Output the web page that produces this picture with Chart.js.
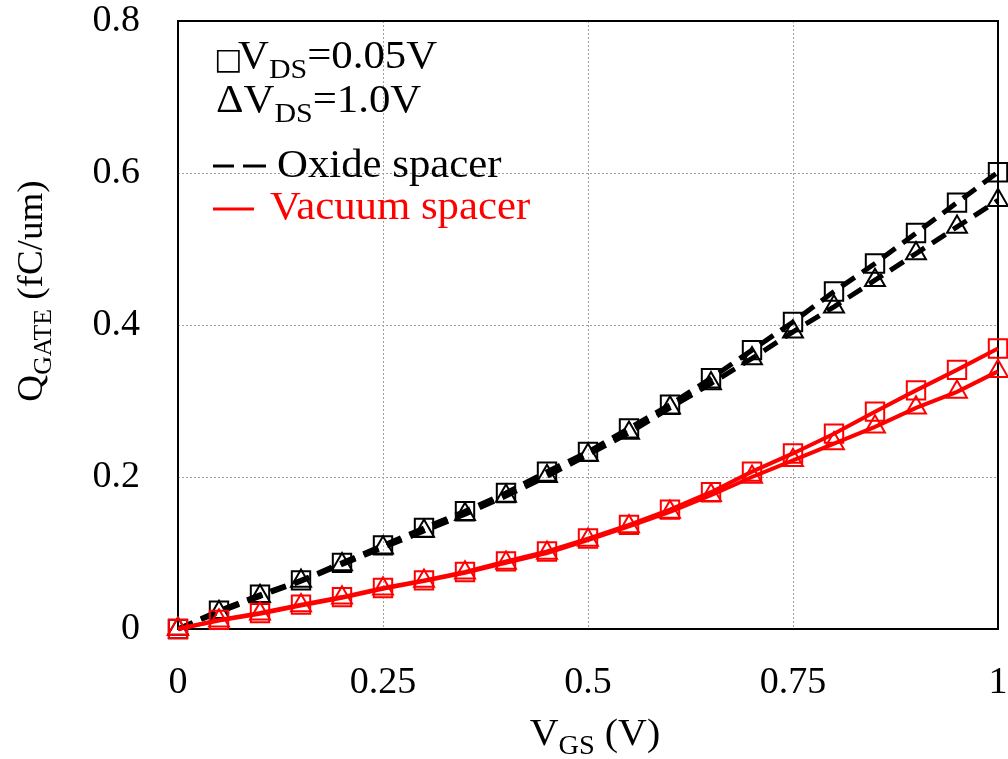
<!DOCTYPE html>
<html>
<head>
<meta charset="utf-8">
<script src="https://cdn.jsdelivr.net/npm/chart.js@4.4.0/dist/chart.umd.min.js"></script>
<style>
  html, body { margin: 0; padding: 0; background: #fff; }
  #wrap { width: 1008px; height: 759px; }
</style>
</head>
<body>
<div id="wrap"><canvas id="c" width="1008" height="759"></canvas></div>
<script>
// V_GS sweep (V)
const vgs = [0, 0.05, 0.1, 0.15, 0.2, 0.25, 0.3, 0.35, 0.4, 0.45, 0.5,
             0.55, 0.6, 0.65, 0.7, 0.75, 0.8, 0.85, 0.9, 0.95, 1.0];

// Q_GATE (fC/um), oxide spacer
const oxideVds005 = [0, 0.024, 0.045, 0.064, 0.087, 0.110, 0.133, 0.155, 0.179, 0.207, 0.233,
                     0.264, 0.295, 0.330, 0.367, 0.404, 0.444, 0.481, 0.521, 0.561, 0.601];
const oxideVds10  = [0, 0.022, 0.043, 0.063, 0.085, 0.107, 0.129, 0.151, 0.175, 0.201, 0.229,
                     0.258, 0.291, 0.323, 0.356, 0.391, 0.424, 0.459, 0.494, 0.529, 0.564];

// Q_GATE (fC/um), vacuum spacer
const vacVds005 = [0, 0.012, 0.021, 0.032, 0.042, 0.054, 0.064, 0.075, 0.089, 0.102, 0.119,
                   0.137, 0.157, 0.180, 0.207, 0.231, 0.257, 0.286, 0.314, 0.341, 0.369];
const vacVds10  = [0, 0.011, 0.020, 0.031, 0.041, 0.053, 0.063, 0.074, 0.087, 0.100, 0.117,
                   0.135, 0.154, 0.176, 0.200, 0.222, 0.244, 0.266, 0.291, 0.312, 0.339];

const xTicks = [0, 0.25, 0.5, 0.75, 1];
const xTickLabels = ['0', '0.25', '0.5', '0.75', '1'];
const yTicks = [0, 0.2, 0.4, 0.6, 0.8];
const yTickLabels = ['0', '0.2', '0.4', '0.6', '0.8'];

const SERIF = "'Liberation Serif', 'Times New Roman', serif";
const RED = '#ff0000';

function pts(ys) {
  return vgs.map((x, i) => ({ x: x, y: ys[i] }));
}

function series(label, ys, color, marker, dashed) {
  return {
    label: label,
    data: pts(ys),
    borderColor: color,
    borderWidth: dashed ? 5 : 4,
    borderDash: dashed ? [16, 9] : [],
    pointStyle: marker,
    pointRadius: marker === 'rect' ? 13 : 11.5,
    pointBorderWidth: 2,
    pointBorderColor: color,
    pointBackgroundColor: 'rgba(0,0,0,0)',
    tension: 0,
    clip: false
  };
}

// draws text runs like [['V', false], ['DS', true]] with subscripts, slightly widened
function drawRuns(ctx, runs, x, y, size, subSize, color, sx) {
  ctx.save();
  ctx.translate(x, y);
  ctx.scale(sx, 1);
  ctx.fillStyle = color;
  ctx.textBaseline = 'alphabetic';
  ctx.textAlign = 'left';
  let cx = 0;
  runs.forEach(r => {
    if (r[1]) {
      ctx.font = subSize + 'px ' + SERIF;
      ctx.fillText(r[0], cx, size * 0.24);
    } else {
      ctx.font = size + 'px ' + SERIF;
      ctx.fillText(r[0], cx, 0);
    }
    cx += ctx.measureText(r[0]).width;
  });
  ctx.restore();
}

function runsWidth(ctx, runs, size, subSize, sx) {
  let w = 0;
  runs.forEach(r => {
    ctx.font = (r[1] ? subSize : size) + 'px ' + SERIF;
    w += ctx.measureText(r[0]).width;
  });
  return w * sx;
}

function noPad(scale) {
  scale.paddingTop = 0;
  scale.paddingBottom = 0;
  scale.paddingLeft = 0;
  scale.paddingRight = 0;
}

const decor = {
  id: 'decor',
  beforeDatasetsDraw(chart) {
    const ctx = chart.ctx;
    const a = chart.chartArea;
    ctx.save();
    ctx.strokeStyle = '#000';
    ctx.lineWidth = 2;
    ctx.strokeRect(a.left, a.top, a.right - a.left, a.bottom - a.top);
    ctx.restore();
  },
  afterDraw(chart) {
    const ctx = chart.ctx;
    ctx.save();

    // legend block
    ctx.font = "30px 'DejaVu Sans'";
    ctx.fillStyle = '#000';
    ctx.textBaseline = 'alphabetic';
    ctx.fillText('\u25A1', 214, 69);
    drawRuns(ctx, [['V', false], ['DS', true], ['=0.05V', false]], 238, 68, 40, 28, '#000', 1.07);
    drawRuns(ctx, [['\u0394V', false], ['DS', true], ['=1.0V', false]], 216, 112, 40, 28, '#000', 1.07);

    ctx.strokeStyle = '#000';
    ctx.lineWidth = 3;
    ctx.beginPath();
    ctx.moveTo(213, 166); ctx.lineTo(234, 166);
    ctx.moveTo(243, 166); ctx.lineTo(266, 166);
    ctx.stroke();
    drawRuns(ctx, [['Oxide spacer', false]], 277, 177, 40, 28, '#000', 1.07);

    ctx.strokeStyle = RED;
    ctx.beginPath();
    ctx.moveTo(213, 209); ctx.lineTo(254, 209);
    ctx.stroke();
    drawRuns(ctx, [['Vacuum spacer', false]], 270, 219, 40, 28, RED, 1.07);

    // x axis title
    const xr = [['V', false], ['GS', true], [' (V)', false]];
    const xw = runsWidth(ctx, xr, 38, 27, 1.05);
    drawRuns(ctx, xr, 595 - xw / 2, 745, 38, 27, '#000', 1.05);

    // y axis title (rotated)
    const yr = [['Q', false], ['GATE', true], [' (fC/um)', false]];
    const yw = runsWidth(ctx, yr, 36, 25, 1.03);
    ctx.translate(42, 291);
    ctx.rotate(-Math.PI / 2);
    drawRuns(ctx, yr, -yw / 2, 0, 36, 25, '#000', 1.03);

    ctx.restore();
  }
};

new Chart(document.getElementById('c'), {
  type: 'line',
  data: {
    datasets: [
      series('Vacuum VDS=0.05V', vacVds005, RED, 'rect', false),
      series('Vacuum VDS=1.0V', vacVds10, RED, 'triangle', false),
      series('Oxide VDS=0.05V', oxideVds005, '#000', 'rect', true),
      series('Oxide VDS=1.0V', oxideVds10, '#000', 'triangle', true)
    ]
  },
  options: {
    responsive: false,
    animation: false,
    layout: { autoPadding: false, padding: { top: 21, right: 10, left: 0, bottom: 0 } },
    plugins: { legend: { display: false }, tooltip: { enabled: false } },
    scales: {
      x: {
        type: 'linear',
        min: 0,
        max: 1,
        afterFit(scale) { scale.height = 130; noPad(scale); },
        afterBuildTicks(scale) { scale.ticks = xTicks.map(v => ({ value: v })); },
        ticks: {
          padding: 31,
          color: '#000',
          font: { family: SERIF, size: 38, lineHeight: 1.2 },
          maxRotation: 0,
          autoSkip: false,
          callback: (v) => xTickLabels[xTicks.indexOf(v)]
        },
        grid: { color: '#a0a0a0', lineWidth: 1, drawTicks: false },
        border: { display: false, dash: [2, 2] }
      },
      y: {
        type: 'linear',
        min: 0,
        max: 0.8,
        afterFit(scale) { scale.width = 178; noPad(scale); },
        afterBuildTicks(scale) { scale.ticks = yTicks.map(v => ({ value: v })); },
        ticks: {
          padding: 38,
          color: '#000',
          font: { family: SERIF, size: 38, lineHeight: 1.2 },
          autoSkip: false,
          callback: (v) => yTickLabels[yTicks.indexOf(v)]
        },
        grid: { color: '#a0a0a0', lineWidth: 1, drawTicks: false },
        border: { display: false, dash: [2, 2] }
      }
    }
  },
  plugins: [decor]
});
</script>
</body>
</html>
